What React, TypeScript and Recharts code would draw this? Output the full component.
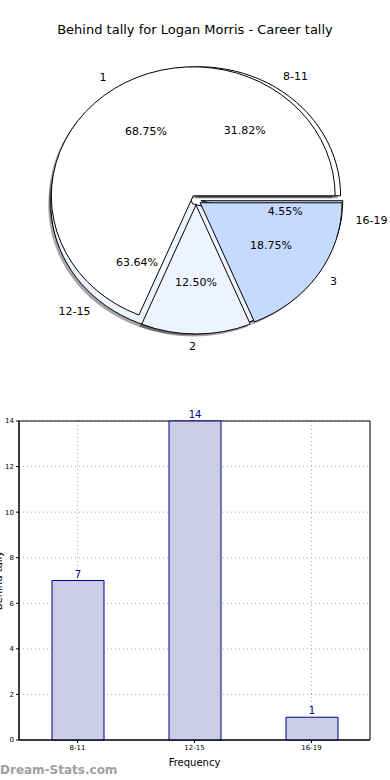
import React from 'react'
import { PieChart, Pie, BarChart, Bar, XAxis, YAxis, CartesianGrid, LabelList, ReferenceArea } from 'recharts'

const TITLE = 'Behind tally for Logan Morris - Career tally'
const TALLY_NAMES = ['1', '2', '3']
const TALLY_VALUES = [11, 2, 3]
const FREQ_NAMES = ['8-11', '12-15', '16-19']
const FREQ_VALUES = [7, 14, 1]
const Y_TICKS = [0, 2, 4, 6, 8, 10, 12, 14]
const SLICE_COLORS = ['#ffffff', '#eef4ff', '#c6daff']

const FONT = 'DejaVu Sans, sans-serif'
const RAD = Math.PI / 180
const SX = 1.1 // matplotlib pie is wider than tall here
const EXPLODE = 5
const PIE_CX = 191
const PIE_CY = 195
const PIE_R = 129

const tallyData = TALLY_NAMES.map((name, i) => ({ name, value: TALLY_VALUES[i], fill: SLICE_COLORS[i] }))
const freqData = FREQ_NAMES.map((name, i) => ({ name, value: FREQ_VALUES[i], fill: SLICE_COLORS[i] }))
const barData = FREQ_NAMES.map((name, i) => ({ name, value: FREQ_VALUES[i] }))

const wedge = (shadow: boolean) => (p: any) => {
  const mid = p.midAngle * RAD
  let cx = p.cx + EXPLODE * Math.cos(mid)
  let cy = p.cy - EXPLODE * Math.sin(mid)
  if (shadow) {
    cx -= 2.5
    cy += 2.5
  }
  const rx = p.outerRadius * SX
  const ry = p.outerRadius
  const s = p.startAngle * RAD
  const e = p.endAngle * RAD
  const x1 = cx + rx * Math.cos(s)
  const y1 = cy - ry * Math.sin(s)
  const x2 = cx + rx * Math.cos(e)
  const y2 = cy - ry * Math.sin(e)
  const large = Math.abs(e - s) > Math.PI ? 1 : 0
  const d = `M${cx},${cy} L${x1},${y1} A${rx},${ry} 0 ${large} 0 ${x2},${y2} Z`
  if (shadow) return <path d={d} fill="#000" fillOpacity={0.35} stroke="none" />
  return <path d={d} fill={p.fill} stroke="#000" strokeWidth={1} />
}

const sliceLabel = (p: any) => {
  const mid = p.midAngle * RAD
  const cos = Math.cos(mid)
  const sin = Math.sin(mid)
  const cx = p.cx + EXPLODE * cos
  const cy = p.cy - EXPLODE * sin
  const r = p.outerRadius
  return (
    <g>
      <text
        x={cx + 1.1 * r * SX * cos}
        y={cy - 1.1 * r * sin}
        textAnchor={cos > 0 ? 'start' : 'end'}
        dominantBaseline="central"
        fontSize={11}
        fontFamily={FONT}
        fill="#000"
      >
        {p.name}
      </text>
      <text
        x={cx + 0.6 * r * SX * cos}
        y={cy - 0.6 * r * sin}
        textAnchor="middle"
        dominantBaseline="central"
        fontSize={11}
        fontFamily={FONT}
        fill="#000"
      >
        {(p.percent * 100).toFixed(2) + '%'}
      </text>
    </g>
  )
}

const pieProps = {
  dataKey: 'value',
  nameKey: 'name',
  cx: PIE_CX,
  cy: PIE_CY,
  outerRadius: PIE_R,
  startAngle: 0,
  endAngle: 360,
  isAnimationActive: false,
}

export default function App() {
  return (
    <div style={{ position: 'absolute', left: 0, top: 0, width: 390, height: 780, background: '#fff', fontFamily: FONT }}>
      <div style={{ position: 'absolute', top: 22, width: 390, textAlign: 'center', fontSize: 13, color: '#000' }}>{TITLE}</div>
      <div style={{ position: 'absolute', top: 0, left: 0 }}>
        <PieChart width={390} height={400}>
          <Pie {...pieProps} data={freqData} shape={wedge(true)} />
          <Pie {...pieProps} data={tallyData} shape={wedge(true)} />
          <Pie {...pieProps} data={freqData} shape={wedge(false)} label={sliceLabel} labelLine={false} />
          <Pie {...pieProps} data={tallyData} shape={wedge(false)} label={sliceLabel} labelLine={false} />
        </PieChart>
      </div>
      <div style={{ position: 'absolute', top: 400, left: 0 }}>
        <BarChart width={390} height={380} data={barData} margin={{ top: 21, right: 20, left: 0, bottom: 0 }}>
          <CartesianGrid stroke="#a8a8a8" strokeDasharray="1 3" />
          <XAxis
            dataKey="name"
            height={40}
            tick={{ fontSize: 7, fill: '#000', fontFamily: FONT }}
            tickSize={3}
            tickLine={{ stroke: '#000' }}
            axisLine={{ stroke: '#000' }}
            label={{ value: 'Frequency', position: 'insideBottom', offset: 14, fontSize: 10, fill: '#000', fontFamily: FONT }}
          />
          <YAxis
            width={19}
            domain={[0, 14]}
            ticks={Y_TICKS}
            tick={{ fontSize: 7, fill: '#000', fontFamily: FONT }}
            tickSize={3}
            tickLine={{ stroke: '#000' }}
            axisLine={{ stroke: '#000' }}
            label={{ value: 'Behind tally', angle: -90, position: 'center', dx: -11, fontSize: 10, fill: '#000', fontFamily: FONT }}
          />
          <ReferenceArea y1={0} y2={14} fill="none" fillOpacity={0} stroke="#000" strokeWidth={1} ifOverflow="visible" />
          <Bar dataKey="value" barSize={52} fill="#ccccE5" stroke="#000080" strokeWidth={1} isAnimationActive={false}>
            <LabelList dataKey="value" position="top" fill="#000080" fontSize={10} fontFamily={FONT} offset={3} />
          </Bar>
        </BarChart>
      </div>
      <div style={{ position: 'absolute', left: 0, top: 763, fontSize: 12, fontWeight: 'bold', color: '#a0a0a0' }}>Dream-Stats.com</div>
    </div>
  )
}
